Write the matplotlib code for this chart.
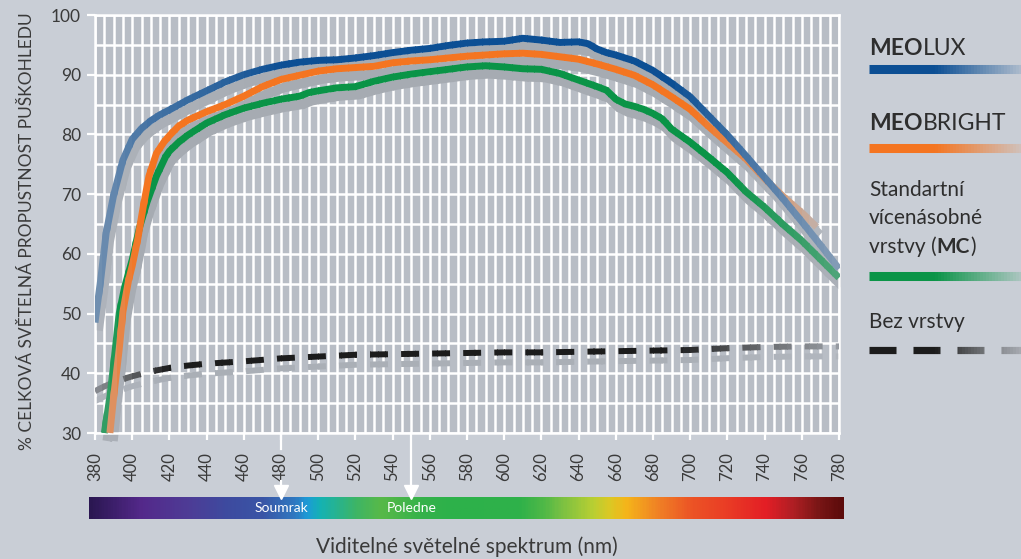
import numpy as np
import matplotlib
matplotlib.use('Agg')
import matplotlib.pyplot as plt
from matplotlib.colors import to_rgb, LinearSegmentedColormap
from matplotlib.patches import Rectangle
import matplotlib.transforms as mtransforms

# Dados (nm, % propustnost)
nm_meolux = [380, 383, 386, 390, 395, 400, 405, 410, 415, 420, 430, 440, 450, 460, 470,
             480, 490, 500, 510, 520, 530, 540, 550, 560, 570, 580, 590, 600, 610, 620,
             630, 640, 645, 650, 655, 660, 670, 680, 690, 700, 710, 720, 730, 740, 750,
             760, 770, 780]
val_meolux = [48.5, 55.5, 63.5, 69.8, 75.7, 79.2, 81.0, 82.3, 83.3, 84.1, 85.8, 87.3, 88.8, 90.0, 90.9,
              91.6, 92.1, 92.4, 92.5, 92.8, 93.2, 93.7, 94.1, 94.4, 94.9, 95.3, 95.5, 95.6, 96.1, 95.8,
              95.4, 95.5, 95.2, 94.3, 93.7, 93.3, 92.3, 90.7, 88.6, 86.3, 83.1, 79.9, 76.4, 72.8, 69.2,
              65.4, 61.5, 57.5]

nm_meobright = [388, 390, 393, 395, 398, 400, 403, 406, 409, 413, 417, 420, 425, 430, 440,
                450, 460, 470, 480, 490, 500, 510, 520, 530, 540, 550, 560, 570, 580, 590,
                600, 610, 620, 630, 640, 650, 660, 670, 680, 690, 700, 710, 720, 730, 740,
                750, 760, 768]
val_meobright = [30.0, 36.0, 44.0, 50.3, 55.5, 58.0, 62.5, 68.0, 73.0, 76.8, 78.7, 79.8, 81.4, 82.4, 83.8,
                 85.0, 86.4, 88.0, 89.2, 89.9, 90.6, 91.0, 91.2, 91.4, 92.0, 92.3, 92.5, 92.8, 93.1, 93.3,
                 93.5, 93.6, 93.4, 93.0, 92.6, 91.8, 90.9, 89.9, 88.3, 86.3, 84.2, 81.3, 78.6, 75.9, 72.6,
                 69.6, 66.9, 64.5]

nm_mc = [385, 388, 390, 393, 396, 400, 404, 408, 413, 418, 420, 425, 430, 440, 450,
         460, 470, 480, 490, 495, 500, 510, 520, 530, 540, 550, 560, 570, 580, 590,
         600, 610, 620, 630, 640, 650, 655, 660, 665, 670, 675, 680, 685, 690, 700,
         710, 720, 730, 740, 750, 760, 770, 780]
val_mc = [30.0, 36.0, 41.4, 50.0, 54.5, 59.0, 64.5, 68.7, 73.0, 76.3, 77.2, 78.7, 79.9, 81.9, 83.3,
          84.4, 85.2, 85.9, 86.4, 87.0, 87.3, 87.8, 88.0, 88.9, 89.6, 90.1, 90.5, 90.9, 91.3, 91.5,
          91.3, 91.0, 90.9, 90.2, 89.1, 88.0, 87.4, 85.9, 85.1, 84.7, 84.2, 83.5, 82.6, 80.9, 78.7,
          76.2, 73.6, 70.4, 67.8, 64.9, 62.2, 59.1, 56.0]

nm_bez = [380, 383, 390, 400, 410, 420, 430, 440, 450, 460, 480, 500, 520, 540, 560,
          580, 600, 620, 640, 660, 680, 700, 720, 740, 760, 780]
val_bez = [37.0, 37.5, 38.5, 39.5, 40.3, 40.9, 41.3, 41.6, 41.8, 42.0, 42.5, 42.8, 43.1, 43.2, 43.3,
           43.4, 43.5, 43.5, 43.6, 43.7, 43.8, 43.9, 44.2, 44.4, 44.5, 44.5]

x_ticks = list(range(380, 781, 20))
y_ticks = list(range(30, 101, 10))
marcas_nm = [480, 550]
marcas_txt = ['Soumrak', 'Poledne']

FUNDO = '#c9ced6'
FUNDO_GRAF = '#b8bdc5'
AZUL = '#0c4f94'
LARANJA = '#f47521'
VERDE = '#0a9447'
PRETO = '#1c1c1c'
SOMBRA = '#a6abb2'
TEXTO = '#2e2e2e'

plt.rcParams['font.family'] = ['Lato', 'DejaVu Sans']


def mistura(cor, f, fundo):
    c = np.array(to_rgb(cor))
    b = np.array(to_rgb(fundo))
    return tuple(b + (c - b) * f)


def linha_degrade(eixo, x, y, cor, fundo, px, pf, x0, x1, passo, **kw):
    # desenha a linha inteira varias vezes, cada uma recortada numa faixa de x
    bordas = np.arange(x0, x1, passo)
    for b in bordas:
        f = np.interp(b + passo / 2, px, pf)
        ln, = eixo.plot(x, y, color=mistura(cor, f, fundo), **kw)
        ln.set_clip_path(Rectangle((b, -1000), passo * 1.15, 3000, transform=eixo.transData))


fig = plt.figure(figsize=(10.21, 5.59), dpi=100)
fig.patch.set_facecolor(FUNDO)

# eixo de apoio em pixels (legenda e espectro)
ax_o = fig.add_axes([0, 0, 1, 1])
ax_o.set_xlim(0, 1021)
ax_o.set_ylim(559, 0)
ax_o.axis('off')
ax_o.set_zorder(0)

ax = fig.add_axes([95 / 1021, 1 - 433 / 559, 744 / 1021, 418 / 559])
ax.set_zorder(2)
ax.set_facecolor(FUNDO_GRAF)
ax.set_xlim(380, 780)
ax.set_ylim(30, 100)

ax.set_xticks(x_ticks)
ax.set_xticks(np.arange(380, 781, 5), minor=True)
ax.set_yticks(y_ticks)
ax.set_yticks(np.arange(30, 101, 5), minor=True)
ax.grid(which='both', color='white', lw=1.8)
ax.set_axisbelow(True)
ax.tick_params(which='minor', length=0)
ax.tick_params(axis='x', which='major', length=5, width=1.6, color='white', pad=9,
               labelrotation=90, labelsize=12, labelcolor='#3a3a3a')
ax.tick_params(axis='y', which='major', length=6, width=1.6, color='white', pad=4,
               labelsize=12.5, labelcolor='#3a3a3a')
for s in ax.spines.values():
    s.set_color('white')
    s.set_linewidth(1.8)

# sombras
sombra_tr = ax.transData + mtransforms.ScaledTranslation(3 / 100, -8 / 100, fig.dpi_scale_trans)
sombra_tr2 = ax.transData + mtransforms.ScaledTranslation(0, -10 / 100, fig.dpi_scale_trans)

perfil_azul = ([380, 392, 410, 445, 480, 690, 720, 750, 780], [0.4, 0.52, 0.68, 0.8, 1.0, 1.0, 0.75, 0.5, 0.3])
perfil_laranja = ([388, 396, 405, 700, 725, 750, 770], [0.55, 0.85, 1.0, 1.0, 0.75, 0.45, 0.15])
perfil_verde = ([385, 395, 720, 750, 780], [0.75, 1.0, 1.0, 0.8, 0.6])
perfil_preto = ([380, 395, 420, 690, 715, 735, 760, 780], [0.3, 0.5, 1.0, 1.0, 0.75, 0.55, 0.35, 0.2])

for xs, ys, (px, pf) in [(nm_mc, val_mc, perfil_verde), (nm_meobright, val_meobright, perfil_laranja),
                         (nm_meolux, val_meolux, perfil_azul)]:
    pf_s = [0.2 + 0.8 * v for v in pf]
    linha_degrade(ax, xs, ys, SOMBRA, FUNDO_GRAF, px, pf_s, 380, 780, 8,
                  lw=7, transform=sombra_tr, solid_capstyle='butt', zorder=2)

pf_s = [0.3 + 0.5 * v for v in perfil_preto[1]]
linha_degrade(ax, nm_bez, val_bez, SOMBRA, FUNDO_GRAF, perfil_preto[0], pf_s, 380, 780, 8,
              lw=4.3, dashes=(3.0, 2.2), dash_capstyle='butt', transform=sombra_tr2, zorder=2)

# linhas
linha_degrade(ax, nm_bez, val_bez, PRETO, FUNDO_GRAF, *perfil_preto, 380, 780, 4,
              lw=4.3, dashes=(3.0, 2.2), dash_capstyle='butt', zorder=3)
linha_degrade(ax, nm_mc, val_mc, VERDE, FUNDO_GRAF, *perfil_verde, 380, 780, 4,
              lw=5, solid_capstyle='butt', solid_joinstyle='round', zorder=4)
linha_degrade(ax, nm_meobright, val_meobright, LARANJA, FUNDO_GRAF, *perfil_laranja, 380, 780, 4,
              lw=5, solid_capstyle='butt', solid_joinstyle='round', zorder=5)
linha_degrade(ax, nm_meolux, val_meolux, AZUL, FUNDO_GRAF, *perfil_azul, 380, 780, 4,
              lw=5, solid_capstyle='butt', solid_joinstyle='round', zorder=6)

# setas Soumrak / Poledne (a linha se interrompe onde ha rotulo do eixo)
xtr = ax.get_xaxis_transform()
for xv, txt in zip(marcas_nm, marcas_txt):
    if xv in x_ticks:
        trechos = [(0, -0.038), (-0.115, -0.13)]
    else:
        trechos = [(0, -0.13)]
    for y0, y1 in trechos:
        ax.plot([xv, xv], [y0, y1], transform=xtr, color='white', lw=1.6, clip_on=False)
    ax.plot([xv], [-0.141], marker='v', ms=10, color='white', mec='white', transform=xtr, clip_on=False)
    ax.text(xv, -0.179, txt, transform=xtr, color='white', fontsize=10, ha='center', va='center',
            clip_on=False)

# barra do espectro
pos_esp = [0, 0.068, 0.13, 0.179, 0.228, 0.272, 0.288, 0.305, 0.353, 0.386, 0.439, 0.475,
           0.572, 0.605, 0.625, 0.668, 0.691, 0.713, 0.757, 0.801, 0.846, 0.899, 0.934, 0.969, 1.0]
cor_esp = ['#2b1752', '#54298b', '#4e3c96', '#3e4a9f', '#3a55a6', '#2f79c1', '#1d9bd7', '#14b2b4',
           '#3db566', '#58b948', '#36b24a', '#2db14b', '#2fb14a', '#52b947', '#77c043', '#b8cf33',
           '#dcc824', '#f5b51a', '#f07f25', '#ec5326', '#ea3d25', '#e31e26', '#b11f24', '#7a1616',
           '#5c0b0b']
cmap_esp = LinearSegmentedColormap.from_list('espectro', list(zip(pos_esp, cor_esp)))
ax_o.imshow(np.linspace(0, 1, 600)[None, :], cmap=cmap_esp, extent=(89, 843, 519, 497),
            aspect='auto', interpolation='bilinear')

# textos dos eixos
fig.text(27 / 1021, 1 - 231 / 559, '% CELKOVÁ SVĚTELNÁ PROPUSTNOST PUŠKOHLEDU', rotation=90,
         ha='center', va='center', fontsize=12.5, color='#3a3a3a')
fig.text(467 / 1021, 1 - 547 / 559, 'Viditelné světelné spektrum (nm)', ha='center', va='center',
         fontsize=15, color='#3a3a3a')

# legenda
leg_x = np.array([869, 1021])
perfil_leg = ([869, 935, 1021], [1.0, 1.0, 0.15])
for cor, yl in [(AZUL, 69), (LARANJA, 148), (VERDE, 276)]:
    linha_degrade(ax_o, leg_x, [yl, yl], cor, FUNDO, *perfil_leg, 869, 1021, 3,
                  lw=6.5, solid_capstyle='butt')
linha_degrade(ax_o, [869, 1030], [350, 350], PRETO, FUNDO, [869, 935, 990, 1021], [1.0, 1.0, 0.45, 0.2],
              869, 1030, 3, lw=5.2, dashes=(3.74, 2.35), dash_capstyle='butt')

t1 = ax_o.text(869, 55, 'MEO', fontsize=16.5, weight='bold', color=TEXTO, va='baseline')
ax_o.annotate('LUX', xy=(1, 0), xycoords=t1, fontsize=16.5, weight='normal', color=TEXTO,
              va='bottom', ha='left')
t2 = ax_o.text(869, 130, 'MEO', fontsize=16.5, weight='bold', color=TEXTO, va='baseline')
ax_o.annotate('BRIGHT', xy=(1, 0), xycoords=t2, fontsize=16.5, weight='normal', color=TEXTO,
              va='bottom', ha='left')
ax_o.text(869, 196, 'Standartní', fontsize=15, color=TEXTO, va='baseline')
ax_o.text(869, 224, 'vícenásobné', fontsize=15, color=TEXTO, va='baseline')
t3 = ax_o.text(869, 253, 'vrstvy (', fontsize=15, color=TEXTO, va='baseline')
t4 = ax_o.annotate('MC', xy=(1, 0), xycoords=t3, fontsize=15, weight='bold', color=TEXTO,
                   va='bottom', ha='left')
ax_o.annotate(')', xy=(1, 0), xycoords=t4, fontsize=15, color=TEXTO, va='bottom', ha='left')
ax_o.text(869, 328, 'Bez vrstvy', fontsize=15, color=TEXTO, va='baseline')

fig.savefig('out.png', dpi=100, facecolor=FUNDO)
